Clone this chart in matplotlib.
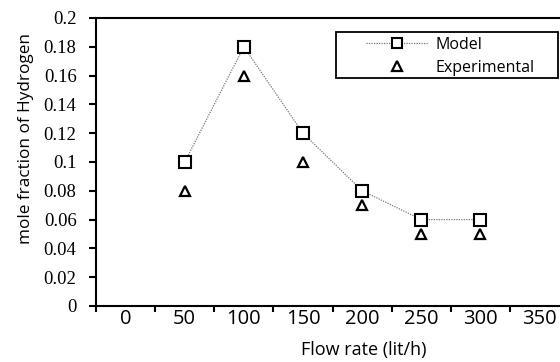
import matplotlib
matplotlib.use("Agg")
import matplotlib.pyplot as plt
from matplotlib.patches import Rectangle

categories = ["0", "50", "100", "150", "200", "250", "300", "350"]
flow_rates = ["50", "100", "150", "200", "250", "300"]
model = [0.10, 0.18, 0.12, 0.08, 0.06, 0.06]
experimental = [0.08, 0.16, 0.10, 0.07, 0.05, 0.05]
y_ticks = [0, 0.02, 0.04, 0.06, 0.08, 0.1, 0.12, 0.14, 0.16, 0.18, 0.2]
y_labels = ["0", "0.02", "0.04", "0.06", "0.08", "0.1", "0.12", "0.14",
            "0.16", "0.18", "0.2"]

sans = ["Open Sans", "DejaVu Sans"]
serif = ["Liberation Serif", "DejaVu Serif"]

fig = plt.figure(figsize=(5.6, 3.62), dpi=100)
ax = fig.add_axes([0.1714, 0.1547, 0.845, 0.7956])

xpos = [categories.index(f) for f in flow_rates]
ax.plot(xpos, model, linestyle=(0, (1, 1)), color="#777777", linewidth=0.9,
        marker="s", markersize=8.5, markerfacecolor="white",
        markeredgecolor="black", markeredgewidth=1.5, label="Model")
ax.plot(xpos, experimental, linestyle="none", marker="^", markersize=7,
        markerfacecolor="white", markeredgecolor="black",
        markeredgewidth=1.6, label="Experimental")

ax.set_xlim(-0.5, len(categories) - 0.5)
ax.set_ylim(0, 0.2)
# category axis: tick marks between categories, labels centred on them
ax.set_xticks([i + 0.5 for i in range(-1, len(categories))])
ax.set_xticklabels([])
ax.set_xticks(range(len(categories)), minor=True)
ax.set_xticklabels(categories, minor=True, fontfamily=sans, fontsize=14.5)
ax.tick_params(axis="x", which="major", direction="out", length=4, width=1.5)
ax.tick_params(axis="x", which="minor", length=0, pad=2)

ax.set_yticks(y_ticks)
ax.set_yticklabels(y_labels, fontfamily=serif, fontsize=13.5)
ax.tick_params(axis="y", direction="out", length=5, width=1.5, pad=9)

for side in ["left", "bottom", "top", "right"]:
    ax.spines[side].set_linewidth(1.5)

ax.set_xlabel("Flow rate (lit/h)", fontfamily=sans, fontsize=13)
ax.xaxis.set_label_coords(0.565, -0.12)
ax.set_ylabel("mole fraction of Hydrogen", fontfamily=sans, fontsize=12.3)
ax.yaxis.set_label_coords(-0.131, 0.58)

leg = ax.legend(loc="upper left", bbox_to_anchor=(0.571, 0.935),
                prop={"family": sans, "size": 11.5}, frameon=False,
                handlelength=3.9, borderpad=0, labelspacing=0.45,
                handletextpad=0.45, borderaxespad=0)
leg.legend_handles[0].set_markersize(7)
leg.legend_handles[1].set_markersize(6.5)
fig.add_artist(Rectangle((336 / 560, 1 - 78 / 362), 222 / 560, 46 / 362,
                         transform=fig.transFigure, fill=False,
                         edgecolor="black", linewidth=1.3))

fig.savefig("out.png", dpi=100)
